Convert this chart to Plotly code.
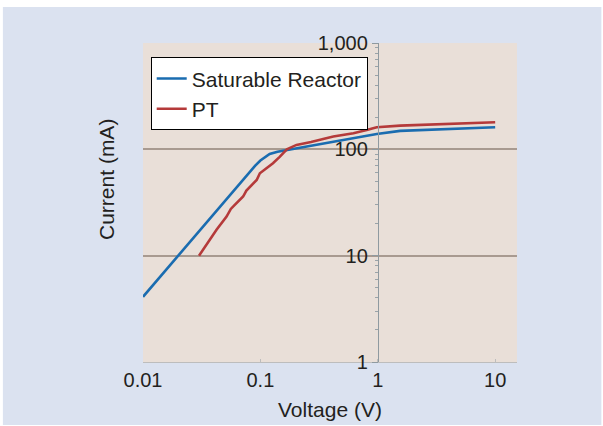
import plotly.graph_objects as go

# ---- data ----
sat_v = [0.01, 0.02, 0.05, 0.07, 0.09, 0.1, 0.11, 0.12, 0.14, 0.16, 0.217, 0.418, 0.7, 0.98, 1.55, 3.0, 10.0]
sat_i = [4.1, 10.1, 33.0, 51.0, 70.0, 78.5, 85.5, 90.5, 95.0, 97.5, 102.5, 118.0, 130.0, 139.6, 149.0, 154.0, 161.5]

pt_v = [0.030, 0.036, 0.0423, 0.0515, 0.056, 0.0605, 0.0713, 0.076, 0.093, 0.099, 0.112, 0.128, 0.146,
        0.168, 0.203, 0.27, 0.418, 0.62, 0.805, 0.98, 1.55, 4.0, 10.0]
pt_i = [10.0, 13.5, 17.5, 23.3, 27.5, 30.0, 36.0, 41.0, 51.5, 59.6, 66.0, 74.0, 85.0,
        100.0, 110.0, 117.0, 131.8, 141.7, 152.0, 161.5, 167.0, 173.0, 180.0]

x_ticks = [0.01, 0.1, 1, 10]
x_tick_text = ["0.01", "0.1", "1", "10"]
y_ticks = [1, 10, 100, 1000]
y_tick_text = ["1", "10", "100", "1,000"]
grid_vals = [10, 100]

X_RANGE = [-2, 1.186]
Y_RANGE = [0, 3]

FONT = "Liberation Sans, Arial, sans-serif"
TXT = "#231f20"
BLUE = "#1a6cb0"
RED = "#b53a3a"

yaxis_pos = (0 - X_RANGE[0]) / (X_RANGE[1] - X_RANGE[0])
y_minor = [m * d for d in (1, 10, 100) for m in range(2, 10)]

fig = go.Figure()
fig.add_trace(go.Scatter(x=sat_v, y=sat_i, mode="lines", name="Saturable Reactor",
                         legendgroup="a", line=dict(color=BLUE, width=2.6)))
fig.add_trace(go.Scatter(x=pt_v, y=pt_i, mode="lines", name="PT",
                         legendgroup="b", line=dict(color=RED, width=2.6)))
# invisible trace to carry the gridline axis
fig.add_trace(go.Scatter(x=[1], y=[10], yaxis="y2", mode="markers",
                         marker=dict(opacity=0), showlegend=False, hoverinfo="skip"))

fig.update_layout(
    width=603, height=426,
    margin=dict(l=143, r=86, t=43, b=64),
    paper_bgcolor="white",
    plot_bgcolor="rgba(0,0,0,0)",
    font=dict(family=FONT, color=TXT, size=20),
    xaxis=dict(type="log", range=X_RANGE, tickvals=x_ticks, ticktext=x_tick_text,
               showgrid=False, zeroline=False, showline=True, linecolor="#bdbdbd", linewidth=1,
               ticks="inside", ticklen=3, tickcolor="#bdbdbd",
               tickfont=dict(size=20, family=FONT, color=TXT), ticklabelstandoff=0),
    yaxis=dict(type="log", range=Y_RANGE, tickvals=y_ticks, ticktext=y_tick_text,
               anchor="free", position=yaxis_pos, side="left",
               showgrid=False, zeroline=False, showline=True, linecolor="#8f9aa0", linewidth=1,
               ticks="outside", ticklen=6, tickcolor="#8f9aa0",
               minor=dict(tickmode="array", tickvals=y_minor, ticks="outside", ticklen=3,
                          tickcolor="#9aa3a8", showgrid=False),
               tickfont=dict(size=20, family=FONT, color=TXT)),
    yaxis2=dict(type="log", range=Y_RANGE, overlaying="y", tickvals=grid_vals,
                showticklabels=False, showgrid=True, gridcolor="#a89a90", gridwidth=1.5,
                zeroline=False, showline=False, ticks=""),
    legend=dict(x=0.0206, y=0.955, xanchor="left", yanchor="top",
                bgcolor="white", bordercolor="black", borderwidth=1,
                font=dict(size=21, family=FONT, color=TXT),
                itemwidth=30, tracegroupgap=0),
    showlegend=True,
    shapes=[
        dict(type="rect", xref="paper", yref="paper", layer="below",
             x0=(3 - 143) / 373.7, x1=(601 - 143) / 373.7,
             y0=(362 - 425) / 319, y1=(362 - 7) / 319,
             fillcolor="#dbe2f0", line=dict(width=0)),
        dict(type="rect", xref="paper", yref="paper", layer="below",
             x0=0, x1=1, y0=0, y1=1,
             fillcolor="#e9dfd8", line=dict(width=0)),
    ],
    annotations=[
        dict(text="Current (mA)", xref="paper", yref="paper", x=(106 - 143) / 373.7,
             y=(362 - 179) / 319, textangle=-90, showarrow=False,
             xanchor="center", yanchor="middle", font=dict(size=21, family=FONT, color=TXT)),
        dict(text="Voltage (V)", xref="paper", yref="paper", x=0.5,
             y=(362 - 409.5) / 319, showarrow=False,
             xanchor="center", yanchor="middle", font=dict(size=21, family=FONT, color=TXT)),
    ],
)

fig.write_html("out.html")
